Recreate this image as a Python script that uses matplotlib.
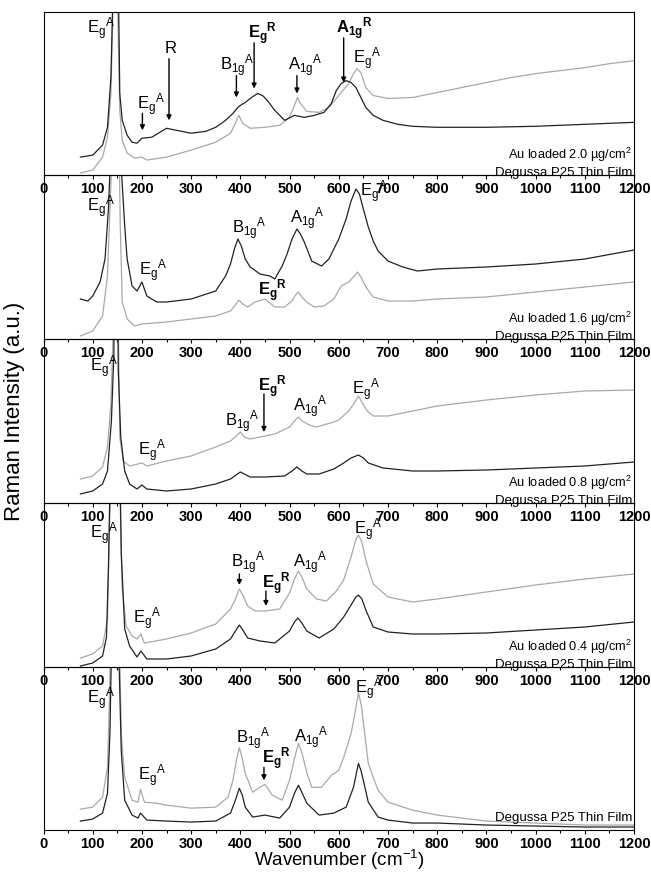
import matplotlib
matplotlib.use("Agg")
import matplotlib.pyplot as plt
from matplotlib.ticker import MultipleLocator

plt.rcParams['font.family'] = ['Liberation Sans', 'DejaVu Sans']
plt.rcParams['mathtext.fontset'] = 'custom'
plt.rcParams['mathtext.rm'] = 'Liberation Sans'
plt.rcParams['mathtext.it'] = 'Liberation Sans:italic'
plt.rcParams['mathtext.bf'] = 'Liberation Sans:bold'

# ---------------- data ----------------
# Panel 1 : Au loaded 2.0 ug/cm2 (black) and Degussa P25 (gray)
p1_black_x = [75, 100, 120, 130, 137, 140, 146, 153, 155, 160, 170, 180, 190, 200, 220, 250, 270, 300, 330, 350,
              370, 385, 395, 400, 410, 420, 435, 445, 455, 470, 490, 510, 530, 550, 570, 585, 595, 605, 615, 625,
              635, 645, 655, 670, 690, 720, 750, 800, 900, 1000, 1100, 1200]
p1_black_y = [18, 20, 30, 48, 98, 160, 400, 160, 82, 55, 40, 33, 32, 37, 38, 47, 45, 42, 44, 48,
              55, 62, 68, 70, 73, 77, 82, 80, 75, 65, 55, 60, 58, 60, 63, 72, 85, 92, 95, 93,
              88, 78, 68, 60, 55, 51, 49, 48, 48, 49, 51, 53]
p1_gray_x = [75, 100, 120, 130, 137, 141, 146, 151, 155, 160, 170, 185, 200, 210, 250, 300, 350, 380, 390, 397,
             405, 420, 450, 480, 500, 510, 516, 522, 535, 560, 580, 600, 620, 630, 637, 645, 655, 670, 700, 750,
             800, 850, 900, 950, 1000, 1050, 1100, 1150, 1200]
p1_gray_y = [2, 5, 18, 38, 82, 164, 400, 164, 65, 35, 22, 17, 18, 15, 18, 25, 33, 42, 52, 60,
             52, 47, 48, 50, 58, 70, 78, 72, 64, 63, 68, 80, 92, 102, 107, 103, 88, 80, 77, 78,
             83, 88, 93, 98, 102, 105, 108, 112, 115]

# Panel 2 : Au loaded 1.6 ug/cm2
p2_black_x = [75, 90, 100, 115, 125, 132, 136, 146, 157, 165, 170, 180, 190, 200, 210, 230, 250, 300, 350, 370,
              380, 388, 395, 402, 410, 420, 440, 460, 470, 485, 495, 505, 515, 522, 530, 545, 565, 580, 600, 615,
              625, 635, 642, 650, 660, 670, 680, 700, 730, 760, 800, 900, 1000, 1100, 1200]
p2_black_y = [40, 38, 43, 57, 80, 130, 180, 600, 180, 113, 80, 53, 48, 57, 43, 37, 37, 40, 48, 63,
              75, 90, 100, 93, 80, 72, 65, 63, 60, 73, 85, 100, 110, 105, 97, 78, 73, 80, 100, 120,
              138, 150, 145, 130, 112, 98, 88, 78, 72, 68, 70, 72, 75, 80, 89]
p2_gray_x = [75, 100, 120, 130, 135, 139, 147, 154, 156, 160, 170, 185, 200, 250, 300, 350, 380, 390, 397, 405,
             415, 430, 450, 470, 490, 505, 512, 518, 525, 535, 550, 570, 590, 605, 620, 630, 638, 645, 655, 670,
             700, 750, 800, 900, 1000, 1100, 1200]
p2_gray_y = [3, 8, 23, 63, 130, 180, 500, 180, 113, 37, 20, 13, 15, 17, 20, 23, 28, 34, 39, 35,
             32, 37, 40, 32, 32, 38, 44, 47, 42, 37, 32, 33, 40, 53, 57, 62, 67, 62, 52, 42,
             38, 38, 40, 42, 47, 52, 57]

# Panel 3 : Au loaded 0.8 ug/cm2
p3_gray_x = [75, 100, 120, 130, 137, 142, 147, 152, 155, 162, 175, 200, 210, 250, 300, 350, 380, 392, 400, 408,
             420, 440, 470, 500, 510, 518, 526, 540, 555, 590, 600, 620, 632, 640, 648, 658, 670, 700, 750, 800,
             900, 1000, 1100, 1200]
p3_gray_y = [24, 27, 36, 56, 99, 180, 400, 180, 66, 42, 37, 40, 37, 42, 47, 56, 62, 67, 71, 66,
             64, 66, 69, 76, 82, 86, 82, 78, 76, 81, 83, 92, 100, 107, 100, 92, 87, 87, 92, 97,
             103, 108, 112, 113]
p3_black_x = [75, 100, 120, 130, 138, 143, 147, 152, 157, 165, 175, 190, 200, 210, 250, 300, 350, 380, 400, 420,
              450, 490, 505, 515, 525, 535, 560, 590, 610, 625, 640, 650, 660, 690, 750, 800, 900, 1000, 1100, 1200]
p3_black_y = [9, 12, 19, 32, 82, 149, 400, 132, 66, 32, 19, 14, 18, 14, 12, 14, 19, 24, 31, 26,
              26, 27, 32, 36, 32, 29, 29, 34, 40, 45, 48, 45, 40, 35, 32, 32, 33, 35, 37, 41]

# Panel 4 : Au loaded 0.4 ug/cm2
p4_gray_x = [75, 100, 120, 130, 134, 137, 146, 155, 160, 168, 180, 190, 198, 205, 250, 300, 350, 380, 390, 398,
             405, 415, 430, 450, 480, 500, 510, 518, 525, 535, 555, 575, 595, 610, 625, 635, 640, 647, 655, 670,
             700, 750, 800, 900, 1000, 1100, 1200]
p4_gray_y = [9, 13, 21, 48, 140, 180, 500, 180, 78, 41, 31, 28, 33, 24, 28, 34, 43, 58, 68, 78,
             72, 61, 56, 56, 58, 74, 88, 96, 90, 78, 68, 66, 76, 87, 110, 128, 132, 125, 107, 83,
             70, 65, 68, 75, 82, 88, 93]
p4_black_x = [75, 100, 120, 128, 132, 135, 146, 156, 158, 165, 175, 190, 198, 210, 250, 300, 350, 380, 390, 398,
              405, 415, 440, 470, 500, 510, 517, 525, 535, 560, 590, 610, 625, 635, 640, 647, 655, 670, 700, 750,
              800, 900, 1000, 1100, 1200]
p4_black_y = [1, 4, 11, 30, 100, 180, 500, 180, 114, 38, 21, 10, 16, 8, 8, 11, 18, 28, 36, 42,
              37, 29, 26, 24, 36, 45, 49, 44, 36, 29, 38, 50, 62, 70, 72, 68, 57, 40, 35, 33,
              33, 34, 37, 40, 45]

# Panel 5 : Degussa P25 thin film
p5_gray_x = [75, 100, 120, 130, 134, 136, 146, 155, 158, 165, 180, 192, 197, 205, 230, 250, 300, 350, 375, 385,
             392, 398, 404, 410, 425, 440, 450, 465, 485, 500, 510, 518, 525, 535, 545, 565, 585, 600, 610, 625,
             632, 640, 646, 652, 660, 670, 680, 700, 750, 800, 850, 900, 1000, 1100, 1200]
p5_gray_y = [21, 23, 33, 63, 130, 180, 500, 180, 97, 53, 30, 28, 41, 28, 27, 25, 22, 23, 33, 50,
             70, 83, 72, 57, 38, 43, 46, 35, 30, 50, 72, 87, 78, 58, 43, 43, 55, 60, 73, 97,
             115, 138, 125, 100, 67, 53, 40, 28, 20, 15, 12, 9, 7, 5, 5]
p5_black_x = [75, 100, 120, 130, 135, 138, 146, 153, 158, 165, 180, 192, 197, 210, 250, 300, 350, 380, 390, 398,
              404, 410, 425, 450, 480, 500, 510, 518, 525, 535, 560, 590, 615, 630, 640, 645, 650, 660, 680, 700,
              750, 800, 900, 1000, 1100, 1200]
p5_black_y = [9, 11, 17, 37, 97, 180, 500, 180, 80, 30, 15, 12, 17, 10, 9, 8, 9, 17, 30, 42,
              35, 23, 13, 15, 12, 23, 37, 45, 38, 27, 15, 17, 23, 43, 67, 60, 50, 28, 13, 10,
              7, 7, 5, 4, 3, 3]

sample_labels = ['Au loaded 2.0 \u00b5g/cm$^2$', 'Au loaded 1.6 \u00b5g/cm$^2$',
                 'Au loaded 0.8 \u00b5g/cm$^2$', 'Au loaded 0.4 \u00b5g/cm$^2$', None]
ref_label = 'Degussa P25 Thin Film'
xtick_values = list(range(0, 1201, 100))

# peak labels per panel: (text, x, y)
EgA = r'$\mathregular{{E_g}^{A}}$'
B1gA = r'$\mathregular{{B_{1g}}^{A}}$'
A1gA = r'$\mathregular{{A_{1g}}^{A}}$'
EgR = r'$\mathbf{{E_g}^{R}}$'
A1gR = r'$\mathbf{{A_{1g}}^{R}}$'
peak_labels = [
    [(EgA, 88, 142), (EgA, 190, 66), ('R', 247, 123), (B1gA, 358, 105), (EgR, 416, 137),
     (A1gA, 497, 105), (A1gR, 594, 142), (EgA, 628, 112)],
    [(EgA, 88, 127), (EgA, 195, 63), (B1gA, 384, 105), (EgR, 436, 43), (A1gA, 500, 115), (EgA, 643, 142)],
    [(EgA, 94, 131), (EgA, 192, 47), (B1gA, 369, 76), (EgR, 436, 111), (A1gA, 507, 91), (EgA, 627, 108)],
    [(EgA, 94, 128), (EgA, 182, 43), (B1gA, 382, 99), (EgR, 445, 78), (A1gA, 507, 99), (EgA, 631, 132)],
    [(EgA, 88, 127), (EgA, 192, 50), (B1gA, 392, 87), (EgR, 445, 67), (A1gA, 509, 88), (EgA, 633, 137)],
]
# arrows per panel: (x, y_start, y_end)
peak_arrows = [
    [(201, 62, 45), (255, 117, 55), (392, 100, 78), (428, 133, 87), (515, 100, 82), (610, 138, 93)],
    [],
    [(448, 109, 71)],
    [(398, 93, 82), (452, 76, 61)],
    [(448, 63, 50)],
]

panels = [
    (p1_gray_x, p1_gray_y, p1_black_x, p1_black_y),
    (p2_gray_x, p2_gray_y, p2_black_x, p2_black_y),
    (p3_gray_x, p3_gray_y, p3_black_x, p3_black_y),
    (p4_gray_x, p4_gray_y, p4_black_x, p4_black_y),
    (p5_gray_x, p5_gray_y, p5_black_x, p5_black_y),
]

# ---------------- figure ----------------
W, H = 651, 872
fig = plt.figure(figsize=(W / 100, H / 100), dpi=100)
left_px, right_px = 43.5, 634
tops = [12, 175, 339, 503, 667]
bottoms = [175, 339, 503, 667, 830]

for i, (gx, gy, bx, by) in enumerate(panels):
    ax = fig.add_axes([left_px / W, (H - bottoms[i]) / H, (right_px - left_px) / W,
                       (bottoms[i] - tops[i]) / H])
    ax.patch.set_visible(False)
    ax.plot(gx, gy, color='#a9a9a9', lw=0.9)
    ax.plot(bx, by, color='#222222', lw=0.9)
    ax.set_xlim(0, 1200)
    ax.set_ylim(0, 164)
    ax.set_yticks([])
    ax.set_xticks(xtick_values)
    ax.set_xticklabels([str(v) for v in xtick_values], fontweight='bold', fontsize=10.5)
    ax.xaxis.set_minor_locator(MultipleLocator(50))
    ax.tick_params(axis='x', which='major', direction='out', length=2.8, width=0.8, pad=2.0)
    ax.tick_params(axis='x', which='minor', direction='out', length=1.8, width=0.8)
    for s in ax.spines.values():
        s.set_linewidth(0.8)
    for txt, x, y in peak_labels[i]:
        ax.text(x, y, txt, fontsize=12, ha='left', va='baseline')
    for x, y0, y1 in peak_arrows[i]:
        ax.annotate('', xy=(x, y1), xytext=(x, y0),
                    arrowprops=dict(arrowstyle='-|>', color='black', lw=1.0,
                                    mutation_scale=7, shrinkA=0, shrinkB=0))
    if sample_labels[i] is not None:
        ax.text(1196, 16, sample_labels[i], fontsize=9.2, ha='right', va='baseline')
        ax.text(1196, -1, ref_label, fontsize=9.5, ha='right', va='baseline')
    else:
        ax.text(1196, 9, ref_label, fontsize=9.5, ha='right', va='baseline')

fig.text(15 / W, (H - 411) / H, 'Raman Intensity (a.u.)', rotation=90,
         ha='center', va='center', fontsize=16)
fig.text(339 / W, (H - 860) / H, 'Wavenumber (cm$^{-1}$)', ha='center', va='center', fontsize=13.5)

fig.savefig('out.png', dpi=100)
